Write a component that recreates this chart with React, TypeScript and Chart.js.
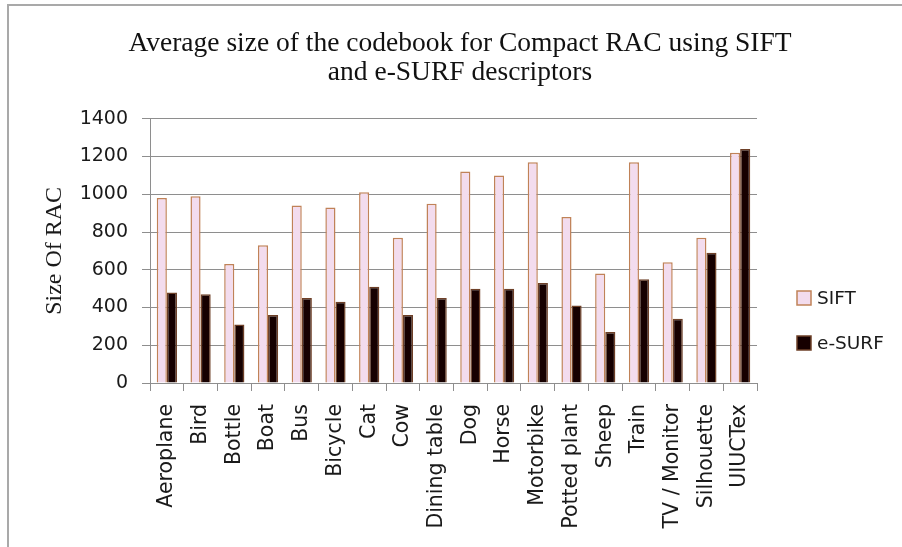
import React, { useEffect, useRef } from "react";
import { Chart, registerables } from "chart.js";

Chart.register(...registerables);

const categories = [
  "Aeroplane", "Bird", "Bottle", "Boat", "Bus", "Bicycle", "Cat", "Cow",
  "Dining table", "Dog", "Horse", "Motorbike", "Potted plant", "Sheep",
  "Train", "TV / Monitor", "Silhouette", "UIUCTex",
];
const siftValues = [980, 990, 630, 730, 940, 930, 1010, 770, 950, 1120, 1100, 1170, 880, 580, 1170, 640, 770, 1220];
const esurfValues = [480, 470, 310, 360, 450, 430, 510, 360, 450, 500, 500, 530, 410, 270, 550, 340, 690, 1240];
const seriesNames = ["SIFT", "e-SURF"];
const titleLines = ["Average size of the codebook for Compact RAC using SIFT", "and e-SURF descriptors"];
const yAxisTitle = "Size Of RAC";
const yMin = 0;
const yMax = 1400;
const yStep = 200;

const GRID = "#8e8e8e";
const SANS = "'DejaVu Sans', sans-serif";
const SERIF = "'Liberation Serif', 'Times New Roman', serif";

const legendPlugin = {
  id: "customLegend",
  afterDraw(chart: any) {
    const { ctx, chartArea } = chart;
    ctx.save();
    chart.data.datasets.forEach((ds: any, i: number) => {
      const x = chartArea.right + 40;
      const cy = chartArea.bottom - 85 + i * 45;
      ctx.fillStyle = ds.backgroundColor;
      ctx.strokeStyle = ds.borderColor;
      ctx.lineWidth = 1.5;
      ctx.fillRect(x, cy - 7, 14, 14);
      ctx.strokeRect(x, cy - 7, 14, 14);
      ctx.fillStyle = "#1a1a1a";
      ctx.font = `18.5px ${SANS}`;
      ctx.textBaseline = "middle";
      ctx.textAlign = "left";
      ctx.fillText(ds.label, x + 20, cy + 1);
    });
    ctx.restore();
  },
};

export default function App() {
  const ref = useRef<HTMLCanvasElement>(null);

  useEffect(() => {
    if (!ref.current) return;
    const chart = new Chart(ref.current, {
      type: "bar",
      data: {
        labels: categories,
        datasets: [
          {
            label: seriesNames[0],
            data: siftValues,
            backgroundColor: "#f3dcee",
            borderColor: "#c08258",
            borderWidth: 1.5,
            categoryPercentage: 0.6,
            barPercentage: 1.0,
          },
          {
            label: seriesNames[1],
            data: esurfValues,
            backgroundColor: "#160000",
            borderColor: "#6e4028",
            borderWidth: 1.5,
            categoryPercentage: 0.6,
            barPercentage: 1.0,
          },
        ],
      },
      plugins: [legendPlugin],
      options: {
        animation: false,
        responsive: false,
        devicePixelRatio: 1,
        layout: { padding: { left: 18, right: 0, top: 0, bottom: 0 } },
        plugins: {
          legend: { display: false },
          tooltip: { enabled: false },
          title: {
            display: true,
            text: titleLines,
            color: "#111",
            font: { family: SERIF, size: 27.5, weight: "normal", lineHeight: 1.05 },
            padding: { top: 29, bottom: 32 },
          },
        },
        scales: {
          x: {
            grid: {
              display: true,
              drawOnChartArea: false,
              drawTicks: true,
              tickLength: 8,
              color: GRID,
              offset: true,
            },
            border: { display: true, color: GRID, width: 1 },
            ticks: {
              color: "#1a1a1a",
              font: { family: SANS, size: 20.5 },
              minRotation: 90,
              maxRotation: 90,
              autoSkip: false,
              padding: 13,
            },
            afterFit: (s: any) => {
              s.height = 164;
            },
          },
          y: {
            min: yMin,
            max: yMax,
            ticks: {
              stepSize: yStep,
              color: "#1a1a1a",
              font: { family: SANS, size: 19 },
              padding: 14,
              callback: (v: any) => String(v),
            },
            grid: { color: GRID, tickLength: 8, drawTicks: true, lineWidth: 1 },
            border: { display: true, color: GRID, width: 1 },
            title: {
              display: true,
              text: yAxisTitle,
              color: "#1a1a1a",
              font: { family: SERIF, size: 24, weight: "normal", lineHeight: 1.2 },
              padding: { top: 22, bottom: 0 },
            },
            afterFit: (s: any) => {
              s.width = 132;
            },
          },
          yRight: {
            type: "linear",
            position: "right",
            display: true,
            grid: { display: false, drawTicks: false },
            ticks: { display: false },
            border: { display: false },
            afterFit: (s: any) => {
              s.width = 145;
            },
          },
        },
      },
    } as any);
    return () => chart.destroy();
  }, []);

  return (
    <div style={{ position: "fixed", left: 0, top: 0, width: 902, height: 547, background: "#fff" }}>
      <canvas ref={ref} width={902} height={547} style={{ display: "block", width: 902, height: 547 }} />
      <div
        style={{
          position: "absolute",
          left: 7,
          top: 4,
          right: 0,
          bottom: 0,
          borderTop: "2px solid #a9a9a9",
          borderLeft: "2px solid #a9a9a9",
          pointerEvents: "none",
        }}
      />
    </div>
  );
}
